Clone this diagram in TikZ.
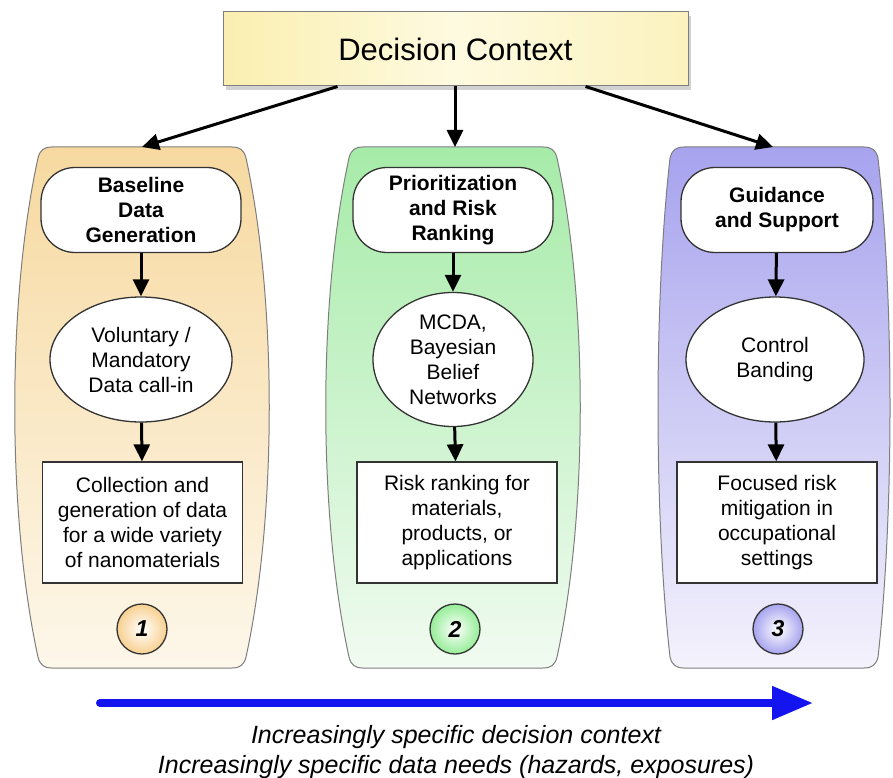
\documentclass[tikz,border=0pt]{standalone}
\usepackage{fontspec}
\setmainfont{Liberation Sans}
\usetikzlibrary{arrows.meta,shapes.geometric,shadows}
\definecolor{dcleft}{HTML}{FAEFB0}
\definecolor{dcmid}{HTML}{FEFAE0}
\definecolor{dcright}{HTML}{FBF2BE}
\definecolor{orgtop}{HTML}{F7D9A0}
\definecolor{orgbot}{HTML}{FDF7EA}
\definecolor{grntop}{HTML}{A6EBA8}
\definecolor{grnbot}{HTML}{F1FBF1}
\definecolor{purtop}{HTML}{A7A3EE}
\definecolor{purbot}{HTML}{F4F2FC}
\definecolor{edgegray}{HTML}{7E7E7E}
\definecolor{arrowblue}{HTML}{1414F0}
\tikzset{
  x=1pt, y=-1pt,
  conn/.style={line width=3pt, -{Triangle[length=17pt,width=16pt]}},
  dcbox/.style={draw=edgegray, line width=1pt, left color=dcleft, right color=dcright, middle color=dcmid,
    minimum width=465pt, minimum height=74pt, font=\fontsize{31}{36}\selectfont,
    drop shadow={opacity=0.35, shadow xshift=3pt, shadow yshift=-4pt}},
  headbox/.style={draw=black!80, line width=1.3pt, fill=white, rounded corners=34pt,
    minimum width=200pt, minimum height=85pt, inner sep=0pt, align=center,
    font=\bfseries\fontsize{21}{25}\selectfont},
  oval/.style={ellipse, draw=black!80, line width=1.3pt, fill=white, inner sep=0pt, align=center,
    font=\fontsize{21}{25}\selectfont},
  infobox/.style={draw=black!80, line width=1.3pt, fill=white, minimum width=200pt, minimum height=121pt,
    inner sep=0pt, align=center, font=\fontsize{21}{25}\selectfont},
  numcirc/.style={circle, draw=black!80, line width=1.3pt, minimum size=50pt, inner sep=0pt,
    font=\bfseries\itshape\fontsize{23}{25}\selectfont},
  colshape/.style={draw=edgegray, line width=1pt}
}
% #1 = control-point half-width of the bulging sides
\newcommand\colpath[1]{(-90,147) -- (90,147) .. controls (98,147) and (102,150) .. (104,158)
  .. controls (#1,300) and (#1,515) .. (104,657) .. controls (102,665) and (98,668) .. (90,668)
  -- (-90,668) .. controls (-98,668) and (-102,665) .. (-104,657)
  .. controls (-#1,515) and (-#1,300) .. (-104,158) .. controls (-102,150) and (-98,147) .. (-90,147) -- cycle}
\begin{document}
\begin{tikzpicture}
\useasboundingbox (0,0) rectangle (893,778);
\fill[white] (0,0) rectangle (893,778);

% columns
\begin{scope}[xshift=142pt]
  \path[colshape, top color=orgtop, bottom color=orgbot] \colpath{135};
\end{scope}
\begin{scope}[xshift=453pt]
  \path[colshape, top color=grntop, bottom color=grnbot] \colpath{135};
\end{scope}
\begin{scope}[xshift=774pt]
  \path[colshape, top color=purtop, bottom color=purbot] \colpath{120};
\end{scope}
\coordinate (c1top) at (142,147);
\coordinate (c2top) at (455,147);
\coordinate (c3top) at (773,147);

% decision context
\node[dcbox] (dc) at (455.5,49) {Decision Context};
\draw[conn] ([xshift=-118pt]dc.south) -- (c1top);
\draw[conn] (dc.south -| c2top) -- (c2top);
\draw[conn] ([xshift=130pt]dc.south) -- (c3top);

% column 1
\node[headbox] (h1) at (141,210) {Baseline\\Data\\Generation};
\node[oval, minimum width=182pt, minimum height=125pt] (e1) at (141,359.5) {Voluntary /\\Mandatory\\Data call-in};
\node[infobox] (r1) at (142.5,522.5) {Collection and\\generation of data\\for a wide variety\\of nanomaterials};
\node[numcirc, inner color=white, outer color=orgtop!90!orange] (n1) at (142,629) {1};
\draw[conn] (h1) -- (e1);
\draw[conn] (e1) -- (r1);

% column 2
\node[headbox] (h2) at (453,210) {Prioritization\\and Risk\\Ranking};
\node[oval, minimum width=160pt, minimum height=134pt] (e2) at (453,359.5) {MCDA,\\Bayesian\\Belief\\Networks};
\node[infobox] (r2) at (457,522.5) {Risk ranking for\\materials,\\products, or\\applications};
\node[numcirc, inner color=white, outer color=grntop!90!green] (n2) at (455,629) {2};
\draw[conn] (h2) -- (e2);
\draw[conn] (e2) -- (r2);

% column 3
\node[headbox, minimum width=192pt] (h3) at (777,210) {Guidance\\and Support};
\node[oval, minimum width=178pt, minimum height=125pt] (e3) at (775,359.5) {Control\\Banding};
\node[infobox] (r3) at (777,522.5) {Focused risk\\mitigation in\\occupational\\settings};
\node[numcirc, inner color=white, outer color=purtop] (n3) at (778,629) {3};
\draw[conn] (h3) -- (e3);
\draw[conn] (e3) -- (r3);

% bottom arrow and caption
\coordinate (bs) at (100,703);
\coordinate (be) at (813,703);
\draw[arrowblue, line width=8pt, line cap=round, -{Triangle[length=41pt,width=32pt]}] (bs) -- (be);
\node[font=\itshape\fontsize{25}{30}\selectfont, align=center] (cap) at (456,752)
  {Increasingly specific decision context\\Increasingly specific data needs (hazards, exposures)};
\end{tikzpicture}
\end{document}
